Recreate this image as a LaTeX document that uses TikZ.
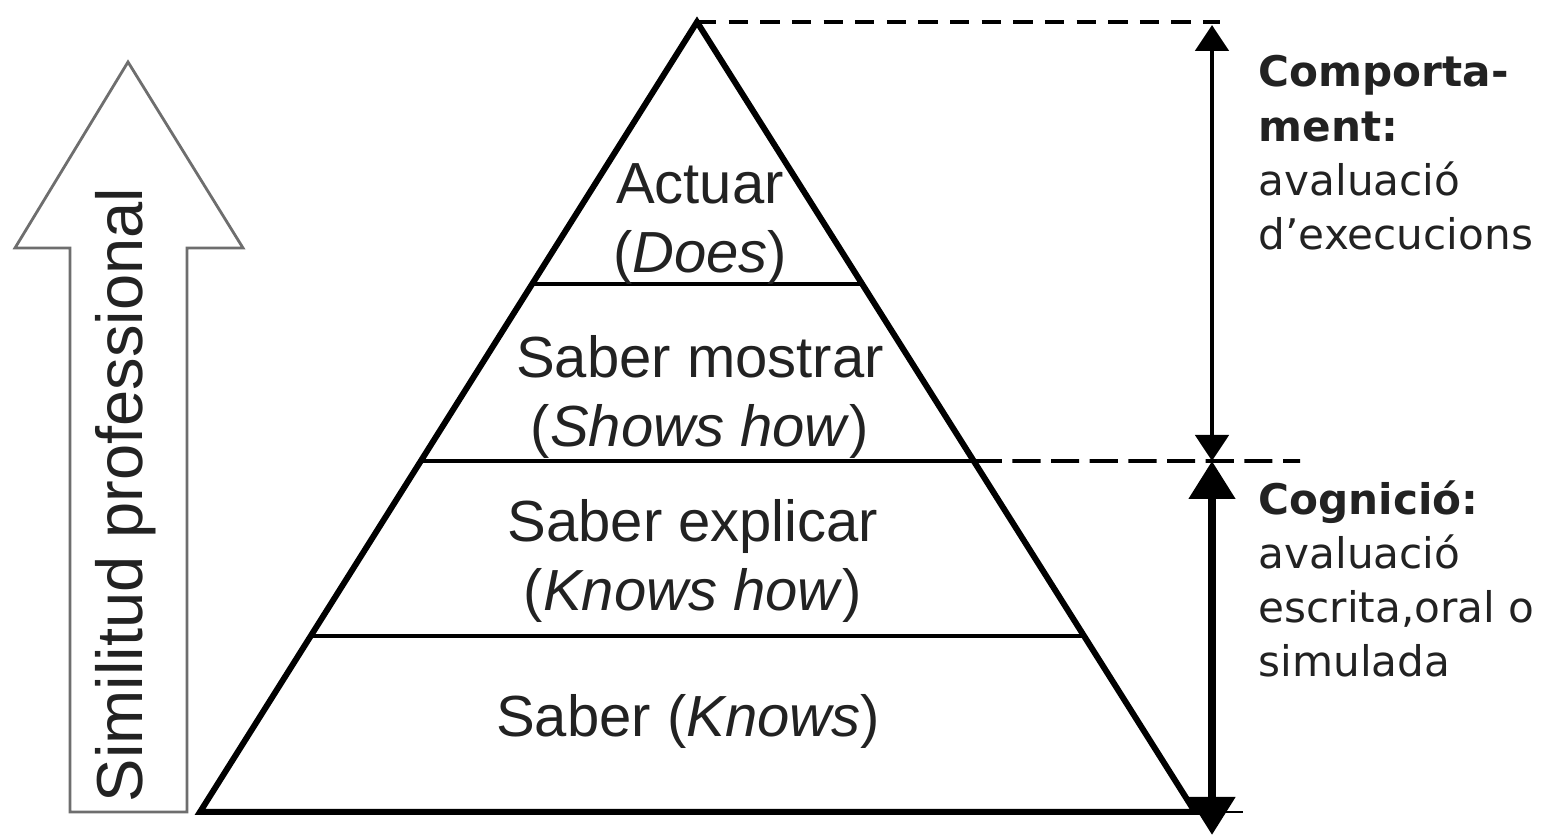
\documentclass[tikz,border=0pt]{standalone}
\usepackage{fontspec}
\setmainfont{Liberation Sans}
\newfontfamily\notefont{DejaVu Sans}
\usepackage{tikz}
\usetikzlibrary{arrows.meta,calc}
\definecolor{arrowgray}{HTML}{6E6E6E}
\definecolor{labelink}{HTML}{222222}

\begin{document}
\begin{tikzpicture}[every node/.style={inner sep=0pt},
  levelbox/.style={font=\fontsize{16.5}{19.5}\selectfont, align=center, text=labelink},
  sidenote/.style={font=\notefont\fontsize{12}{15.4}\selectfont, align=left, anchor=north west, text=labelink},
  tierline/.style={line width=0.9pt},
  guide/.style={line width=1.1pt, dash pattern=on 5.5pt off 3.5pt},
  guidedense/.style={line width=1.1pt, dash pattern=on 8pt off 3pt}]
  \useasboundingbox (0,0) rectangle (15.52,8.35);
  % pyramid
  \coordinate (apex) at (6.97,8.13);
  \coordinate (bl) at (2.00,0.23);
  \coordinate (br) at (11.95,0.23);
  \coordinate (t1l) at ($(apex)!0.3316!(bl)$);  \coordinate (t1r) at ($(apex)!0.3316!(br)$);
  \coordinate (t2l) at ($(apex)!0.5557!(bl)$);  \coordinate (t2r) at ($(apex)!0.5557!(br)$);
  \coordinate (t3l) at ($(apex)!0.7772!(bl)$);  \coordinate (t3r) at ($(apex)!0.7772!(br)$);
  \draw[tierline] (t1l) -- (t1r);
  \draw[line width=1.1pt] (t2l) -- (t2r);
  \draw[tierline] (t3l) -- (t3r);
  \draw[line width=1.7pt] (apex) -- (br) -- (bl) -- cycle;
  \node[levelbox] (does) at (7.00,6.11) {Actuar\\(\textit{Does})};
  \node[levelbox] (shows) at (7.00,4.38) {Saber mostrar\\(\textit{Shows how})};
  \node[levelbox] (knowshow) at (6.93,2.74) {Saber explicar\\(\textit{Knows how})};
  \node[levelbox] (knows) at (6.88,1.13) {Saber (\textit{Knows})};
  % guides and ranges
  \coordinate (topend) at (12.20,8.13);
  \coordinate (midend) at (13.00,3.74);
  \coordinate (baseend) at (12.43,0.23);
  \draw[guide] (apex) -- (topend);
  \draw[guidedense] (t2r) -- (midend);
  \draw[line width=0.8pt] (br) -- (baseend);
  \coordinate (behavtop) at (12.12,8.10);
  \coordinate (split) at (12.12,3.74);
  \coordinate (cognbot) at (12.12,0.00);
  \draw[line width=1.4pt, {Triangle[length=2.6mm,width=3.3mm]}-{Triangle[length=2.6mm,width=3.3mm]}] (behavtop) -- (split);
  \draw[line width=2.3pt, {Triangle[length=3.8mm,width=4.5mm]}-{Triangle[length=3.8mm,width=4.5mm]}] (split) -- (cognbot);
  \node[sidenote] (behav) at (12.58,7.80) {\textbf{Comporta-}\\\textbf{ment:}\\avaluació\\d’execucions};
  \node[sidenote] (cogn) at (12.58,3.55) {\textbf{Cognició:}\\avaluació\\escrita,oral o\\simulada};
  % hollow arrow
  \draw[arrowgray, line width=0.8pt, fill=white] (0.70,0.23) -- (1.87,0.23) -- (1.87,5.87) -- (2.43,5.87) -- (1.28,7.73) -- (0.15,5.87) -- (0.70,5.87) -- cycle;
  \node[rotate=90, font=\fontsize{18.5}{18.5}\selectfont, text=labelink] (simil) at (1.26,3.40) {Similitud professional};
\end{tikzpicture}
\end{document}
